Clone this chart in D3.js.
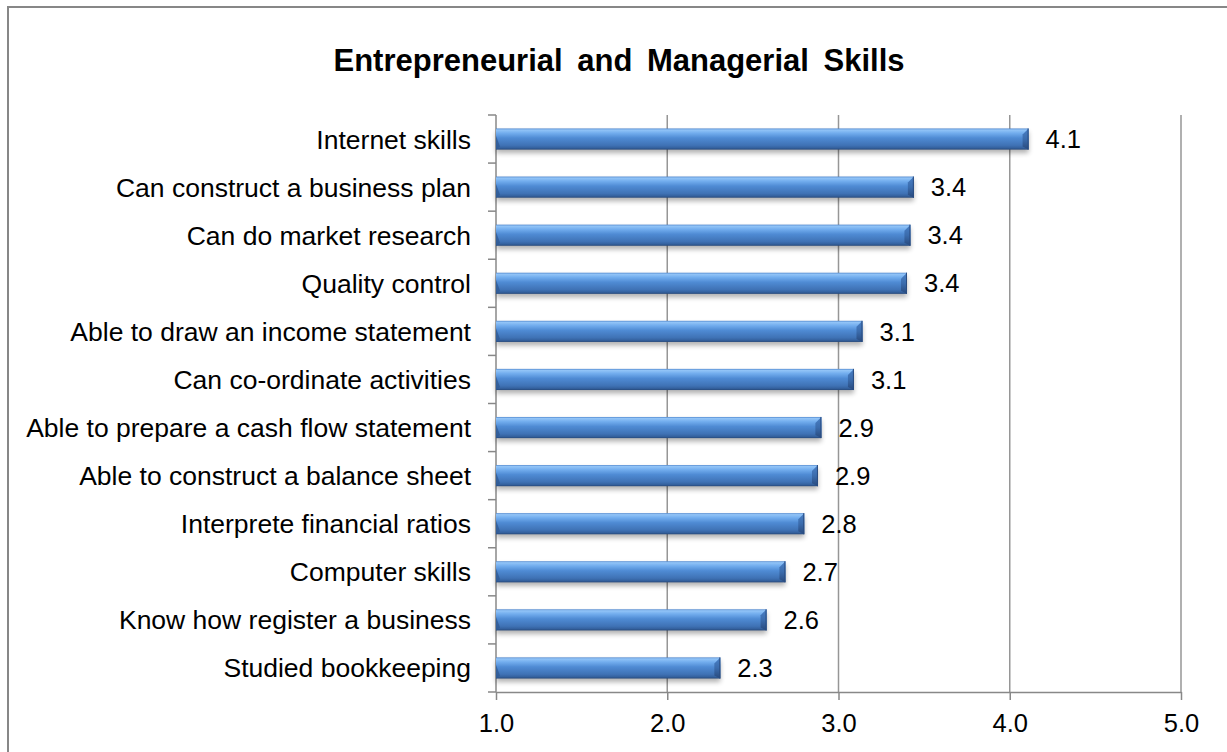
<!DOCTYPE html>
<html>
<head>
<meta charset="utf-8">
<script src="https://cdn.jsdelivr.net/npm/d3@7"></script>
<style>
  html, body { margin: 0; padding: 0; background: #fff; }
  svg { display: block; font-family: Arial, "Liberation Sans", sans-serif; }
</style>
</head>
<body>
<svg id="chart" width="1227" height="752"></svg>
<script>
// Survey categories, top to bottom
const categories = [
  "Internet skills",
  "Can construct a business plan",
  "Can do market research",
  "Quality control",
  "Able to draw an income statement",
  "Can co-ordinate activities",
  "Able to prepare a cash flow statement",
  "Able to construct a balance sheet",
  "Interprete financial ratios",
  "Computer skills",
  "Know how register a business",
  "Studied bookkeeping"
];
// Mean score for each category
const scores = [4.11, 3.44, 3.42, 3.40, 3.14, 3.09, 2.90, 2.88, 2.80, 2.69, 2.58, 2.31];
// Value axis ticks
const xTicks = [1, 2, 3, 4, 5];
const chartTitle = "Entrepreneurial and Managerial Skills";

const svg = d3.select("#chart");
const W = 1227, H = 752;
const plot = { left: 496, right: 1181, top: 115, bottom: 692 };

const x = d3.scaleLinear().domain([1, 5]).range([plot.left, plot.right]);
const y = d3.scaleBand().domain(categories).range([plot.top, plot.bottom])
  .paddingInner(0.56).paddingOuter(0.28);
const step = y.step();
const fmt = d3.format(".1f");

// Gradients and shadow filter for the bevelled bars
const defs = svg.append("defs");
const g1 = defs.append("linearGradient").attr("id", "barFill")
  .attr("x1", 0).attr("y1", 0).attr("x2", 0).attr("y2", 1);
[["0", "#5289cf"], ["0.07", "#92c4f7"], ["0.22", "#72adee"], ["0.45", "#4f8bd4"],
 ["0.8", "#3f72b5"], ["0.92", "#34619e"], ["1", "#27497b"]]
  .forEach(([o, c]) => g1.append("stop").attr("offset", o).attr("stop-color", c));
const g2 = defs.append("linearGradient").attr("id", "capFill")
  .attr("x1", 0).attr("y1", 0).attr("x2", 0).attr("y2", 1);
[["0", "#4a80c6"], ["0.5", "#3b6cad"], ["1", "#28497c"]]
  .forEach(([o, c]) => g2.append("stop").attr("offset", o).attr("stop-color", c));
const f = defs.append("filter").attr("id", "shadow")
  .attr("x", "-5%").attr("y", "-50%").attr("width", "110%").attr("height", "200%");
f.append("feGaussianBlur").attr("stdDeviation", 2.4);

svg.append("rect").attr("width", W).attr("height", H).attr("fill", "#fff");

// Outer chart frame
svg.append("path")
  .attr("d", `M8,${H + 2} L8,7 L${W + 2},7`)
  .attr("fill", "none").attr("stroke", "#878787").attr("stroke-width", 2);

// Title
svg.append("text")
  .attr("x", 619).attr("y", 71)
  .attr("text-anchor", "middle")
  .attr("font-size", 31).attr("font-weight", "bold")
  .attr("word-spacing", 6)
  .attr("fill", "#000")
  .text(chartTitle);

// Vertical gridlines
svg.append("g").selectAll("line")
  .data(xTicks.filter(d => d > 1))
  .join("line")
  .attr("x1", d => x(d)).attr("x2", d => x(d))
  .attr("y1", plot.top).attr("y2", plot.bottom)
  .attr("stroke", "#969696").attr("stroke-width", 1.5);

// X axis
const xAxis = svg.append("g")
  .attr("transform", `translate(0,${plot.bottom})`)
  .call(d3.axisBottom(x).tickValues(xTicks).tickFormat(fmt).tickSizeInner(8).tickSizeOuter(0).tickPadding(14));
xAxis.select(".domain").attr("stroke", "#888").attr("stroke-width", 1.5);
xAxis.selectAll(".tick line").attr("stroke", "#888").attr("stroke-width", 1.5);
xAxis.selectAll(".tick text").attr("font-size", 25.5).attr("fill", "#000")
  .attr("font-family", "Arial, 'Liberation Sans', sans-serif");

// Y axis: line with ticks at category boundaries
const yAxis = svg.append("g");
yAxis.append("line")
  .attr("x1", plot.left).attr("x2", plot.left)
  .attr("y1", plot.top).attr("y2", plot.bottom)
  .attr("stroke", "#888").attr("stroke-width", 1.5);
yAxis.selectAll("line.tk")
  .data(d3.range(categories.length + 1))
  .join("line").attr("class", "tk")
  .attr("x1", plot.left - 8).attr("x2", plot.left)
  .attr("y1", i => plot.top + i * step).attr("y2", i => plot.top + i * step)
  .attr("stroke", "#888").attr("stroke-width", 1.5);

// Category labels
svg.append("g").selectAll("text")
  .data(categories)
  .join("text")
  .attr("x", plot.left - 25)
  .attr("y", d => y(d) + y.bandwidth() / 2)
  .attr("dy", "0.36em")
  .attr("text-anchor", "end")
  .attr("font-size", 26.5)
  .attr("fill", "#000")
  .text(d => d);

// Bars
const data = categories.map((c, i) => ({ c, v: scores[i] }));
const bars = svg.append("g").selectAll("g").data(data).join("g");

bars.append("rect")
  .attr("x", x(1))
  .attr("y", d => y(d.c) + 3.5)
  .attr("width", d => x(d.v) - x(1))
  .attr("height", y.bandwidth())
  .attr("fill", "#000").attr("opacity", 0.3)
  .attr("filter", "url(#shadow)");

bars.append("rect")
  .attr("x", x(1))
  .attr("y", d => y(d.c))
  .attr("width", d => x(d.v) - x(1))
  .attr("height", y.bandwidth())
  .attr("fill", "url(#barFill)");

// Bevelled right end
bars.append("path")
  .attr("d", d => {
    const x1 = x(d.v), y0 = y(d.c), h = y.bandwidth(), b = 6;
    return `M${x1 - b},${y0 + b} L${x1},${y0} L${x1},${y0 + h} L${x1 - b},${y0 + h - 3} Z`;
  })
  .attr("fill", "url(#capFill)");
bars.append("line")
  .attr("x1", d => x(d.v) - 0.5).attr("x2", d => x(d.v) - 0.5)
  .attr("y1", d => y(d.c)).attr("y2", d => y(d.c) + y.bandwidth())
  .attr("stroke", "#2a4c80").attr("stroke-width", 1);

// Small dark wedge at the left end
bars.append("path")
  .attr("d", d => {
    const x0 = x(1), y0 = y(d.c), h = y.bandwidth();
    return `M${x0},${y0 + h * 0.35} L${x0 + 4},${y0 + h - 3} L${x0},${y0 + h} Z`;
  })
  .attr("fill", "#2f5a94").attr("opacity", 0.8);

// Value labels
svg.append("g").selectAll("text")
  .data(data)
  .join("text")
  .attr("x", d => x(d.v) + 17)
  .attr("y", d => y(d.c) + y.bandwidth() / 2)
  .attr("dy", "0.36em")
  .attr("font-size", 25.5)
  .attr("fill", "#000")
  .text(d => fmt(d.v));
</script>
</body>
</html>
